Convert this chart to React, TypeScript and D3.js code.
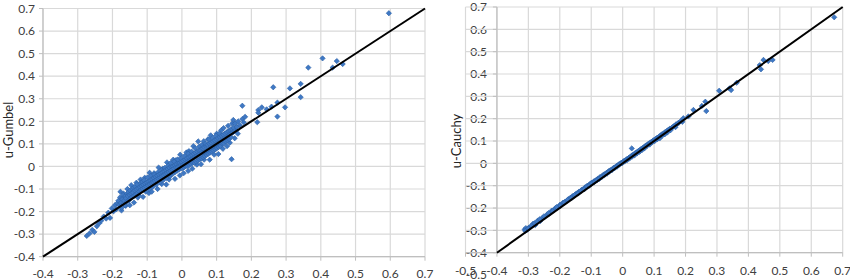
import React from 'react';
import * as d3 from 'd3';

const leftTicks = [-0.4, -0.3, -0.2, -0.1, 0, 0.1, 0.2, 0.3, 0.4, 0.5, 0.6, 0.7];
const rightXTicks = [-0.5, -0.4, -0.3, -0.2, -0.1, 0, 0.1, 0.2, 0.3, 0.4, 0.5, 0.6, 0.7];
const rightYGrid = [-0.4, -0.3, -0.2, -0.1, 0, 0.1, 0.2, 0.3, 0.4, 0.5, 0.6, 0.7];
const rightYLabels = [-0.5, -0.4, -0.3, -0.2, -0.1, 0, 0.1, 0.2, 0.3, 0.4, 0.5, 0.6, 0.7];
const leftTitle = 'u-Gumbel';
const rightTitle = 'u-Cauchy';

const gumbelTail: [number, number][] = [
  [-0.274, -0.308], [-0.266, -0.297], [-0.258, -0.281], [-0.252, -0.29], [-0.245, -0.265],
  [-0.238, -0.252], [-0.232, -0.24], [-0.225, -0.222], [-0.218, -0.231], [-0.212, -0.205],
  [-0.207, -0.228], [-0.202, -0.186], [-0.197, -0.199], [-0.193, -0.172], [-0.189, -0.19],
  [-0.186, -0.163],
];

const gumbelCluster: [number, number][] = [
  [-0.183, -0.152], [-0.181, -0.171], [-0.178, -0.137], [-0.176, -0.162], [-0.173, -0.142], [-0.174, -0.184],
  [-0.171, -0.146], [-0.168, -0.166], [-0.169, -0.126], [-0.166, -0.152], [-0.163, -0.131], [-0.164, -0.172],
  [-0.161, -0.141], [-0.158, -0.121], [-0.159, -0.157], [-0.156, -0.131], [-0.153, -0.151], [-0.154, -0.114],
  [-0.151, -0.126], [-0.148, -0.141], [-0.149, -0.106], [-0.146, -0.121], [-0.143, -0.099], [-0.144, -0.136],
  [-0.141, -0.116], [-0.138, -0.131], [-0.139, -0.094], [-0.136, -0.106], [-0.133, -0.124], [-0.134, -0.089],
  [-0.131, -0.101], [-0.128, -0.119], [-0.129, -0.079], [-0.126, -0.096], [-0.123, -0.111], [-0.124, -0.128],
  [-0.121, -0.091], [-0.118, -0.104], [-0.119, -0.074], [-0.116, -0.086], [-0.113, -0.099], [-0.114, -0.069],
  [-0.111, -0.081], [-0.108, -0.094], [-0.109, -0.061], [-0.106, -0.076], [-0.103, -0.089], [-0.104, -0.112],
  [-0.101, -0.071], [-0.098, -0.084], [-0.099, -0.049], [-0.096, -0.066], [-0.093, -0.079], [-0.094, -0.101],
  [-0.091, -0.061], [-0.088, -0.074], [-0.089, -0.041], [-0.086, -0.056], [-0.083, -0.069], [-0.084, -0.091],
  [-0.081, -0.051], [-0.078, -0.064], [-0.079, -0.036], [-0.076, -0.046], [-0.073, -0.059], [-0.074, -0.081],
  [-0.071, -0.041], [-0.068, -0.054], [-0.069, -0.026], [-0.066, -0.036], [-0.063, -0.049], [-0.064, -0.071],
  [-0.061, -0.031], [-0.058, -0.044], [-0.059, -0.016], [-0.056, -0.026], [-0.053, -0.039], [-0.054, -0.061],
  [-0.051, -0.021], [-0.048, -0.034], [-0.049, -0.006], [-0.046, -0.016], [-0.043, -0.029], [-0.044, -0.051],
  [-0.041, -0.011], [-0.038, -0.024], [-0.039, 0.004], [-0.036, -0.006], [-0.033, -0.019], [-0.034, -0.044],
  [-0.031, 0.001], [-0.028, -0.014], [-0.029, -0.034], [-0.032, 0.016], [-0.026, 0.001], [-0.023, -0.009],
  [-0.024, -0.029], [-0.021, 0.006], [-0.018, -0.004], [-0.019, -0.024], [-0.022, 0.021], [-0.016, 0.011],
  [-0.013, -0.004], [-0.014, -0.019], [-0.011, 0.016], [-0.008, 0.001], [-0.009, -0.014], [-0.012, 0.031],
  [-0.006, 0.016], [-0.003, 0.006], [-0.004, -0.009], [-0.001, 0.021], [0.002, 0.006], [0.001, -0.009],
  [-0.002, 0.036], [0.004, 0.026], [0.007, 0.011], [0.006, -0.004], [0.009, 0.031], [0.012, 0.016],
  [0.011, 0.001], [0.008, 0.046], [0.014, 0.036], [0.017, 0.021], [0.016, 0.001], [0.019, 0.041],
  [0.022, 0.026], [0.021, 0.006], [0.018, 0.056], [0.024, 0.046], [0.027, 0.031], [0.026, 0.011],
  [0.029, 0.051], [0.032, 0.036], [0.031, 0.016], [0.028, 0.066], [0.034, 0.056], [0.037, 0.041],
  [0.036, 0.016], [0.039, 0.061], [0.042, 0.046], [0.041, 0.021], [0.038, 0.081], [0.044, 0.066],
  [0.047, 0.051], [0.046, 0.026], [0.049, 0.071], [0.052, 0.056], [0.051, 0.031], [0.047, 0.111],
  [0.054, 0.071], [0.057, 0.061], [0.056, 0.036], [0.059, 0.081], [0.062, 0.061], [0.061, 0.041],
  [0.058, 0.096], [0.064, 0.086], [0.067, 0.066], [0.066, 0.046], [0.069, 0.091], [0.072, 0.071],
  [0.071, 0.051], [0.068, 0.101], [0.074, 0.096], [0.077, 0.076], [0.076, 0.056], [0.079, 0.101],
  [0.082, 0.081], [0.081, 0.061], [0.078, 0.121], [0.084, 0.106], [0.087, 0.086], [0.086, 0.066],
  [0.089, 0.111], [0.092, 0.091], [0.091, 0.071], [0.088, 0.126], [0.094, 0.116], [0.097, 0.096],
  [0.096, 0.076], [0.099, 0.121], [0.102, 0.101], [0.101, 0.081], [0.098, 0.136], [0.104, 0.126],
  [0.107, 0.106], [0.106, 0.086], [0.109, 0.131], [0.112, 0.111], [0.111, 0.091], [0.108, 0.146],
  [0.114, 0.136], [0.117, 0.116], [0.116, 0.101], [0.119, 0.141], [0.122, 0.121], [0.121, 0.101],
  [0.124, 0.146], [0.127, 0.126], [0.126, 0.111], [0.129, 0.151], [0.132, 0.131], [0.131, 0.116],
  [0.134, 0.156], [0.137, 0.141], [0.136, 0.121], [0.139, 0.161], [0.142, 0.146], [0.141, 0.131],
  [0.144, 0.166], [0.147, 0.151], [0.149, 0.171], [0.152, 0.156],
];

const gumbelScatter: [number, number][] = [
  [-0.177, -0.112], [-0.174, -0.195], [-0.168, -0.12], [-0.162, -0.175], [-0.157, -0.1], [-0.15, -0.172],
  [-0.146, -0.083], [-0.138, -0.16], [-0.131, -0.072], [-0.127, -0.138], [-0.119, -0.058], [-0.112, -0.135],
  [-0.107, -0.05], [-0.095, -0.118], [-0.093, -0.028], [-0.087, -0.112], [-0.08, -0.03], [-0.07, -0.1],
  [-0.067, -0.005], [-0.058, -0.078], [-0.055, -0.01], [-0.045, -0.08], [-0.043, 0.018], [-0.037, -0.058],
  [-0.025, 0.03], [-0.02, -0.055], [-0.017, 0.028], [-0.006, -0.04], [-0.005, 0.052], [0.005, -0.03],
  [0.013, 0.062], [0.018, -0.02], [0.02, 0.068], [0.03, -0.01], [0.033, 0.09], [0.043, 0.008],
  [0.05, 0.088], [0.055, 0.01], [0.063, 0.112], [0.064, 0.03], [0.075, 0.12], [0.08, 0.03],
  [0.083, 0.138], [0.093, 0.052], [0.1, 0.145], [0.105, 0.055], [0.113, 0.16], [0.118, 0.078],
  [0.12, 0.17], [0.13, 0.09], [0.133, 0.18], [0.138, 0.105], [0.145, 0.19], [0.152, 0.125],
  [0.157, 0.16], [0.161, 0.145],
];

const gumbelUpper: [number, number][] = [
  [0.143, 0.032], [0.148, 0.206], [0.153, 0.19], [0.158, 0.175], [0.162, 0.2], [0.167, 0.183],
  [0.174, 0.269], [0.174, 0.21], [0.182, 0.22], [0.178, 0.195], [0.217, 0.196], [0.22, 0.25],
  [0.22, 0.238], [0.23, 0.262], [0.244, 0.253], [0.258, 0.265], [0.263, 0.351], [0.275, 0.283],
  [0.275, 0.221], [0.297, 0.262], [0.311, 0.346], [0.342, 0.366], [0.342, 0.307], [0.364, 0.438],
  [0.405, 0.479], [0.434, 0.438], [0.446, 0.467], [0.463, 0.454], [0.596, 0.679],
];

const cauchyBand: [number, number][] = [
  [-0.312, -0.296], [-0.308, -0.29], [-0.305, -0.299], [-0.298, -0.287], [-0.292, -0.283], [-0.285, -0.27],
  [-0.278, -0.276], [-0.27, -0.256], [-0.262, -0.258], [-0.255, -0.243], [-0.248, -0.24], [-0.24, -0.228],
  [-0.233, -0.225], [-0.226, -0.212], [-0.22, -0.21], [-0.214, -0.2], [-0.208, -0.198], [-0.2, -0.186],
  [-0.195, -0.184], [-0.19, -0.176], [-0.184, -0.172], [-0.178, -0.168], [-0.172, -0.16], [-0.166, -0.154],
  [-0.16, -0.147], [-0.155, -0.145], [-0.15, -0.138], [-0.145, -0.134], [-0.14, -0.128], [-0.135, -0.125],
  [-0.13, -0.118], [-0.125, -0.116], [-0.12, -0.108], [-0.116, -0.105], [-0.112, -0.1], [-0.108, -0.098],
  [-0.104, -0.093], [-0.1, -0.088], [-0.096, -0.087], [-0.092, -0.081], [-0.088, -0.079], [-0.084, -0.074],
  [-0.08, -0.07], [-0.076, -0.067], [-0.072, -0.062], [-0.068, -0.06], [-0.064, -0.055], [-0.06, -0.05],
  [-0.056, -0.048], [-0.052, -0.043], [-0.048, -0.04], [-0.044, -0.035], [-0.04, -0.031], [-0.036, -0.029],
  [-0.032, -0.024], [-0.028, -0.02], [-0.024, -0.017], [-0.02, -0.012], [-0.016, -0.009], [-0.012, -0.005],
  [-0.008, 0.0], [-0.004, 0.002], [0.0, 0.006], [0.004, 0.01], [0.008, 0.013], [0.012, 0.018],
  [0.016, 0.021], [0.02, 0.025], [0.024, 0.029], [0.028, 0.034], [0.029, 0.067], [0.032, 0.037],
  [0.036, 0.041], [0.04, 0.046], [0.044, 0.049], [0.048, 0.053], [0.052, 0.057], [0.056, 0.061],
  [0.06, 0.066], [0.064, 0.069], [0.068, 0.073], [0.072, 0.078], [0.076, 0.081], [0.08, 0.085],
  [0.084, 0.089], [0.088, 0.093], [0.092, 0.097], [0.096, 0.101], [0.1, 0.105], [0.105, 0.11],
  [0.11, 0.115], [0.115, 0.119], [0.12, 0.125], [0.125, 0.13], [0.13, 0.134], [0.135, 0.14],
  [0.14, 0.144], [0.145, 0.15], [0.15, 0.155], [0.157, 0.16], [0.164, 0.168], [0.17, 0.175],
  [0.178, 0.182], [0.185, 0.19],
  [-0.31, -0.302], [-0.3, -0.292], [-0.29, -0.279], [-0.28, -0.268], [-0.272, -0.262], [-0.264, -0.25],
  [-0.25, -0.237], [-0.236, -0.223], [-0.223, -0.214], [-0.21, -0.196], [-0.198, -0.19], [-0.186, -0.176],
  [-0.175, -0.163], [-0.163, -0.156], [-0.152, -0.141], [-0.142, -0.135], [-0.132, -0.122], [-0.122, -0.116],
  [-0.114, -0.104], [-0.106, -0.1], [-0.098, -0.09], [-0.09, -0.084], [-0.082, -0.076], [-0.074, -0.069],
  [-0.066, -0.06], [-0.058, -0.053], [-0.05, -0.046], [-0.042, -0.037], [-0.034, -0.03], [-0.026, -0.022],
  [-0.018, -0.015], [-0.01, -0.006], [-0.002, 0.0], [0.006, 0.008], [0.014, 0.014], [0.022, 0.022],
  [0.03, 0.03], [0.038, 0.036], [0.046, 0.045], [0.054, 0.052], [0.062, 0.06], [0.07, 0.068],
  [0.078, 0.079], [0.086, 0.084], [0.094, 0.094], [0.102, 0.1], [0.11, 0.108], [0.118, 0.112],
  [0.126, 0.124], [0.134, 0.13], [0.142, 0.138], [0.152, 0.148], [0.16, 0.163], [0.168, 0.162],
  [0.176, 0.178], [0.19, 0.186],
];

const cauchyUpper: [number, number][] = [
  [0.193, 0.202], [0.209, 0.21], [0.225, 0.239], [0.252, 0.257], [0.263, 0.276], [0.266, 0.234],
  [0.307, 0.325], [0.34, 0.336], [0.345, 0.328], [0.363, 0.361], [0.436, 0.44], [0.44, 0.421],
  [0.448, 0.463], [0.463, 0.458], [0.477, 0.463], [0.673, 0.654],
];

const gumbelPoints = [...gumbelTail, ...gumbelScatter, ...gumbelCluster, ...gumbelUpper];
const cauchyPoints = [...cauchyBand, ...cauchyUpper];

const fmt = (v: number) => (Math.abs(v) < 1e-9 ? '0' : v.toFixed(1));
const FONT = 'Lato, "Open Sans", sans-serif';
const GRID = '#d9d9d9';
const AXIS = '#bfbfbf';
const TEXT = '#404040';
const MARK = '#3f78c4';
const MARK_STROKE = '#2d62a8';

const diamond = d3.symbol().type(d3.symbolSquare).size(14)();

type PanelProps = {
  xDomain: [number, number];
  xRange: [number, number];
  yRange: [number, number];
  xTicks: number[];
  yGrid: number[];
  yLabels: number[];
  xLabelBaseline: number;
  yLabelRight: number;
  yAxisAt: number;
  title: string;
  titleX: number;
  titleY: number;
  titleSize: number;
  points: [number, number][];
};

function Panel(p: PanelProps) {
  const x = d3.scaleLinear().domain(p.xDomain).range(p.xRange);
  const y = d3.scaleLinear().domain([-0.4, 0.7]).range(p.yRange);
  const [x0, x1] = p.xRange;
  const yTop = y(0.7);
  const yBot = y(-0.4);
  const line = d3.line<number>().x((d) => x(d)).y((d) => y(d));
  return (
    <g>
      {p.yLabels.map((v) => (
        <text key={'yl' + v} x={p.yLabelRight} y={y(v)} dy="0.35em" textAnchor="end"
          fontFamily={FONT} fontSize={12} fill={TEXT}>{fmt(v)}</text>
      ))}
      {p.xTicks.map((v) => (
        <text key={'xl' + v} x={x(v)} y={p.xLabelBaseline} textAnchor="middle"
          fontFamily={FONT} fontSize={12} fill={TEXT}>{fmt(v)}</text>
      ))}
      {p.xTicks.map((v) => (
        <line key={'xg' + v} x1={x(v)} x2={x(v)} y1={yTop} y2={yBot} stroke={GRID} strokeWidth={1.2} />
      ))}
      {p.yGrid.map((v) => (
        <line key={'yg' + v} x1={x0} x2={x1} y1={y(v)} y2={y(v)} stroke={GRID} strokeWidth={1.2} />
      ))}
      <line x1={x(p.yAxisAt)} x2={x(p.yAxisAt)} y1={yTop} y2={yBot} stroke={AXIS} strokeWidth={1.2} />
      <line x1={x0} x2={x1} y1={yBot} y2={yBot} stroke={AXIS} strokeWidth={1.2} />
      {p.yGrid.map((v) => (
        <line key={'yt' + v} x1={x(p.yAxisAt) - 4} x2={x(p.yAxisAt)} y1={y(v)} y2={y(v)} stroke={AXIS} />
      ))}
      {p.xTicks.map((v) => (
        <line key={'xt' + v} x1={x(v)} x2={x(v)} y1={yBot} y2={yBot + 4} stroke={AXIS} />
      ))}
      <text transform={`translate(${p.titleX},${p.titleY}) rotate(-90)`} textAnchor="middle"
        fontFamily={FONT} fontSize={p.titleSize} fill="#262626">{p.title}</text>
      {p.points.map((d, i) => (
        <path key={'pt' + i} d={diamond as string}
          transform={`translate(${x(d[0])},${y(d[1])}) rotate(45)`}
          fill={MARK} stroke={MARK_STROKE} strokeWidth={0.6} />
      ))}
      <path d={line([-0.4, 0.7]) as string} stroke="#000" strokeWidth={2} fill="none" />
    </g>
  );
}

export default function App() {
  return (
    <svg width={850} height={280} style={{ position: 'absolute', left: 0, top: 0, background: '#fff' }}>
      <rect width={850} height={280} fill="#fff" />
      <Panel
        xDomain={[-0.4, 0.7]} xRange={[43, 425]} yRange={[256.7, 8.5]}
        xTicks={leftTicks} yGrid={leftTicks} yLabels={leftTicks}
        xLabelBaseline={278} yLabelRight={35} yAxisAt={-0.4}
        title={leftTitle} titleX={13} titleY={130} titleSize={13}
        points={gumbelPoints}
      />
      <Panel
        xDomain={[-0.5, 0.7]} xRange={[465.5, 842.7]} yRange={[252.7, 7]}
        xTicks={rightXTicks} yGrid={rightYGrid} yLabels={rightYLabels}
        xLabelBaseline={275} yLabelRight={487} yAxisAt={-0.4}
        title={rightTitle} titleX={461} titleY={141} titleSize={13}
        points={cauchyPoints}
      />
    </svg>
  );
}
